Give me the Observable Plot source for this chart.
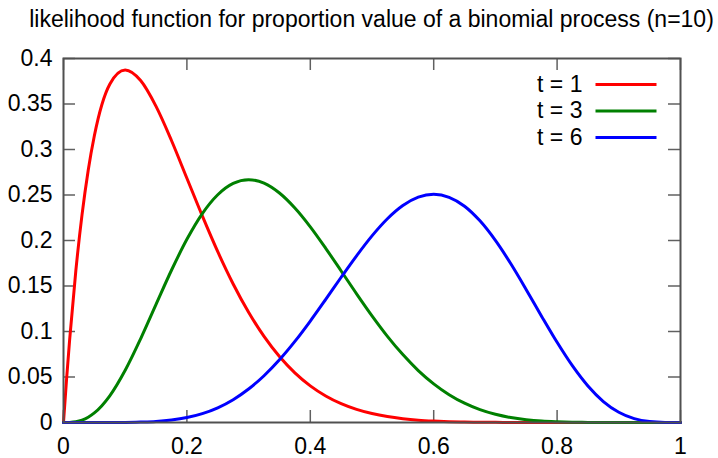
<!DOCTYPE html>
<html>
<head>
<meta charset="utf-8">
<script src="https://cdn.jsdelivr.net/npm/d3@7"></script>
<script src="https://cdn.jsdelivr.net/npm/@observablehq/plot@0.6"></script>
<style>
  html, body { margin: 0; padding: 0; background: #fff; }
  #title {
    width: 693px; height: 40px; padding-left: 25px;
    font-family: "Liberation Sans", Arial, sans-serif; font-size: 23px;
    line-height: 38px; text-align: center; color: #000; white-space: nowrap;
  }
</style>
</head>
<body>
<div id="title"></div>
<div id="chart"></div>
<script>
const titleText = "likelihood function for proportion value of a binomial process (n=10)";

// proportion values (x)
const pValues = [0, 0.005, 0.01, 0.02, 0.03, 0.04, 0.05, 0.075, 0.1, 0.125, 0.15, 0.175, 0.2, 0.225, 0.25, 0.275, 0.3, 0.325, 0.35, 0.375, 0.4, 0.425, 0.45, 0.475, 0.5, 0.525, 0.55, 0.575, 0.6, 0.625, 0.65, 0.675, 0.7, 0.725, 0.75, 0.775, 0.8, 0.825, 0.85, 0.875, 0.9, 0.925, 0.95, 0.975, 1];

// likelihood values for each series
const likeT1 = [0, 0.0478, 0.0914, 0.1668, 0.2281, 0.2770, 0.3151, 0.3718, 0.3874, 0.3758, 0.3474, 0.3099, 0.2684, 0.2270, 0.1877, 0.1522, 0.1211, 0.0946, 0.0725, 0.0546, 0.0403, 0.0292, 0.0207, 0.0144, 0.0098, 0.0065, 0.0042, 0.0026, 0.0016, 0.0009, 0.0005, 0.0003, 0.00014, 0.00007, 0.00003, 0.00001, 0, 0, 0, 0, 0, 0, 0, 0, 0];
const likeT3 = [0, 0.00001, 0.0001, 0.0008, 0.0026, 0.0058, 0.0105, 0.0293, 0.0574, 0.0920, 0.1298, 0.1673, 0.2013, 0.2296, 0.2503, 0.2628, 0.2668, 0.2631, 0.2522, 0.2357, 0.2150, 0.1914, 0.1665, 0.1414, 0.1172, 0.0947, 0.0746, 0.0571, 0.0425, 0.0306, 0.0212, 0.0141, 0.0090, 0.0054, 0.0031, 0.0016, 0.0008, 0.0003, 0.0001, 0.00004, 0.00001, 0, 0, 0, 0];
const likeT6 = [0, 0, 0, 0, 0, 0, 0, 0.00003, 0.0001, 0.0005, 0.0012, 0.0028, 0.0055, 0.0098, 0.0162, 0.0251, 0.0368, 0.0514, 0.0689, 0.0891, 0.1115, 0.1353, 0.1596, 0.1832, 0.2051, 0.2239, 0.2384, 0.2476, 0.2508, 0.2475, 0.2377, 0.2216, 0.2001, 0.1744, 0.1460, 0.1166, 0.0881, 0.0621, 0.0401, 0.0230, 0.0112, 0.0042, 0.0010, 0.0001, 0];

const seriesLabels = ["t = 1", "t = 3", "t = 6"];
const seriesColors = ["#ff0000", "#008000", "#0000ff"];

const xTicks = [0, 0.2, 0.4, 0.6, 0.8, 1];
const xTickLabels = ["0", "0.2", "0.4", "0.6", "0.8", "1"];
const yTicks = [0, 0.05, 0.1, 0.15, 0.2, 0.25, 0.3, 0.35, 0.4];
const yTickLabels = ["0", "0.05", "0.1", "0.15", "0.2", "0.25", "0.3", "0.35", "0.4"];

document.getElementById("title").textContent = titleText;

const W = 718, H = 418;
const mT = 18, mR = 38, mB = 36, mL = 63;
const plotW = W - mL - mR, plotH = H - mT - mB;
const tickLen = 12;
const tickColor = "#606060";

const seriesValues = [likeT1, likeT3, likeT6];
const lineShape = { draw(ctx, l) { ctx.moveTo(0, 0); ctx.lineTo(0, -l); } };

const marks = [];
// inward ticks (gnuplot style, mirrored)
marks.push(Plot.tickX(xTicks, { x: d => d, stroke: tickColor, strokeWidth: 1.5, insetTop: plotH - tickLen }));
marks.push(Plot.tickX(xTicks, { x: d => d, stroke: tickColor, strokeWidth: 1.5, insetBottom: plotH - tickLen }));
marks.push(Plot.tickY(yTicks, { y: d => d, stroke: tickColor, strokeWidth: 1.5, insetRight: plotW - tickLen }));
marks.push(Plot.tickY(yTicks, { y: d => d, stroke: tickColor, strokeWidth: 1.5, insetLeft: plotW - tickLen }));

seriesValues.forEach((vals, s) => {
  const rows = pValues.map((p, i) => ({ p, L: vals[i] }));
  marks.push(Plot.line(rows, { x: "p", y: "L", stroke: seriesColors[s], strokeWidth: 3, curve: "monotone-x" }));
});

// legend
seriesLabels.forEach((lab, s) => {
  const dy = 26 + s * 26.5;
  marks.push(Plot.text([lab], { text: d => d, frameAnchor: "top-right", lineAnchor: "middle", dx: -98, dy, textAnchor: "end", fill: "#000" }));
  marks.push(Plot.vector([lab], { frameAnchor: "top-right", dx: -85, dy, rotate: 90, length: 61, anchor: "start", shape: lineShape, stroke: seriesColors[s], strokeWidth: 3, strokeLinecap: "butt" }));
});

marks.push(Plot.frame({ stroke: "#505050", strokeWidth: 2 }));
marks.push(Plot.axisX({ ticks: xTicks, tickFormat: d => xTickLabels[xTicks.indexOf(d)], tickSize: 0, tickPadding: 15, label: null }));
marks.push(Plot.axisY({ ticks: yTicks, tickFormat: d => yTickLabels[yTicks.indexOf(d)], tickSize: 0, tickPadding: 11, label: null }));

const chart = Plot.plot({
  width: W, height: H,
  marginTop: mT, marginRight: mR, marginBottom: mB, marginLeft: mL,
  x: { domain: [0, 1] },
  y: { domain: [0, 0.4] },
  style: { fontFamily: "'Liberation Sans', Arial, sans-serif", fontSize: "23px", color: "#000", background: "#fff" },
  marks
});
document.getElementById("chart").appendChild(chart);
</script>
</body>
</html>
